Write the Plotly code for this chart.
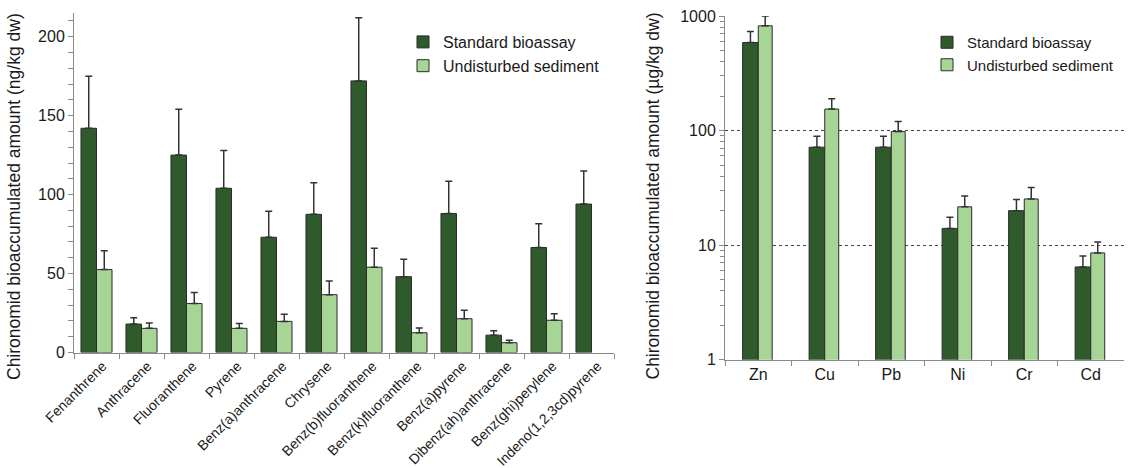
import plotly.graph_objects as go

# ---------------- data ----------------
pah = ["Fenanthrene", "Anthracene", "Fluoranthene", "Pyrene", "Benz(a)anthracene",
       "Chrysene", "Benz(b)fluoranthene", "Benz(k)fluoranthene", "Benz(a)pyrene",
       "Dibenz(ah)anthracene", "Benz(ghi)perylene", "Indeno(1,2,3cd)pyrene"]
pah_standard = [142, 18, 125, 104, 73, 87.5, 172, 48, 88, 11, 66.5, 94]
pah_standard_err = [33, 4, 29, 24, 16.5, 20, 40, 11, 20.5, 2.7, 15, 21]
pah_undisturbed = [52.5, 15.3, 31, 15.3, 19.7, 36.6, 54, 12.5, 21.4, 6.2, 20.4, None]
pah_undisturbed_err = [12, 3.4, 7, 3, 4.5, 8.7, 12, 3, 5.3, 1.5, 4.2, 0]

metals = ["Zn", "Cu", "Pb", "Ni", "Cr", "Cd"]
metal_standard = [587, 71.6, 71.6, 14.0, 20.0, 6.45]
metal_standard_err = [145, 17.8, 17.8, 3.5, 5.0, 1.6]
metal_undisturbed = [821, 154, 98, 21.6, 25.3, 8.55]
metal_undisturbed_err = [179, 36, 22, 5.3, 6.5, 2.1]

series_names = ["Standard bioassay", "Undisturbed sediment"]
left_ticks = [0, 50, 100, 150, 200]
right_tickvals = [1, 10, 100, 1000]
right_ticktext = ["1", "10", "100", "1000"]

left_title = "Chironomid bioaccumulated amount (ng/kg dw)"
right_title = "Chironomid bioaccumulated amount (\u00b5g/kg dw)"

# ---------------- style ----------------
W, H = 1134, 468
DARK = "#2f5a2b"
LIGHT = "#a6d596"
EDGE = "#2b2b2b"
AXIS = "#8a8a8a"
TXT = "#1a1a1a"
FONT = "Arial, Liberation Sans, sans-serif"


def err(vals):
    return dict(type="data", array=vals, arrayminus=[0] * len(vals), symmetric=False,
                color="#333333", thickness=1.5, width=3.5)


fig = go.Figure()

# left panel
fig.add_trace(go.Bar(x=pah, y=pah_standard, error_y=err(pah_standard_err),
                     marker=dict(color=DARK, line=dict(color=EDGE, width=1)),
                     offset=-0.345, width=0.345, name=series_names[0],
                     xaxis="x", yaxis="y", legend="legend"))
fig.add_trace(go.Bar(x=pah, y=pah_undisturbed, error_y=err(pah_undisturbed_err),
                     marker=dict(color=LIGHT, line=dict(color=EDGE, width=1)),
                     offset=0, width=0.345, name=series_names[1],
                     xaxis="x", yaxis="y", legend="legend"))

# right panel
fig.add_trace(go.Bar(x=metals, y=metal_standard, error_y=err(metal_standard_err),
                     marker=dict(color=DARK, line=dict(color=EDGE, width=1)),
                     offset=-0.235, width=0.235, name=series_names[0],
                     xaxis="x2", yaxis="y2", legend="legend2"))
fig.add_trace(go.Bar(x=metals, y=metal_undisturbed, error_y=err(metal_undisturbed_err),
                     marker=dict(color=LIGHT, line=dict(color=EDGE, width=1)),
                     offset=0, width=0.21, name=series_names[1],
                     xaxis="x2", yaxis="y2", legend="legend2"))

common_axis = dict(showline=True, linecolor=AXIS, linewidth=1, ticks="outside",
                   tickcolor=AXIS, ticklen=5, tickfont=dict(size=16, color=TXT),
                   zeroline=False, automargin=False)

fig.update_layout(
    width=W, height=H,
    margin=dict(l=0, r=0, t=0, b=0),
    paper_bgcolor="white", plot_bgcolor="white",
    font=dict(family=FONT, color=TXT),
    barmode="group",
    showlegend=True,
    xaxis=dict(domain=[74 / W, 614 / W], anchor="y", tickson="boundaries",
               tickangle=-45, showgrid=False, ticklabelshift=6, ticklabelstandoff=-1,
               **{**common_axis, "tickfont": dict(size=14, color=TXT)}),
    yaxis=dict(domain=[1 - 352.5 / H, 1 - 13 / H], anchor="x", range=[0, 215],
               tickvals=left_ticks, showgrid=False,
               minor=dict(dtick=10, ticks="outside", ticklen=5, tickcolor=AXIS, showgrid=False),
               **common_axis),
    xaxis2=dict(domain=[725 / W, 1124 / W], anchor="y2", tickson="boundaries",
                tickangle=0, showgrid=False, **common_axis),
    yaxis2=dict(domain=[1 - 359.7 / H, 1 - 16 / H], anchor="x2", type="log",
                range=[0, 3], tickvals=right_tickvals, ticktext=right_ticktext,
                showgrid=True, gridcolor="#444444", griddash="dot", gridwidth=1,
                minor=dict(dtick="D1", ticks="outside", ticklen=4, tickcolor=AXIS, showgrid=False),
                **common_axis),
    legend=dict(x=403 / W, y=1 - 25 / H, xanchor="left", yanchor="top",
                font=dict(size=16, color=TXT), bgcolor="rgba(0,0,0,0)",
                tracegroupgap=0, itemwidth=30),
    legend2=dict(x=927 / W, y=1 - 26 / H, xanchor="left", yanchor="top",
                 font=dict(size=15, color=TXT), bgcolor="rgba(0,0,0,0)",
                 tracegroupgap=0, itemwidth=30),
    annotations=[
        dict(text=left_title, textangle=-90, xref="paper", yref="paper",
             x=14 / W, y=1 - 197 / H, xanchor="center", yanchor="middle",
             showarrow=False, font=dict(size=17.5, color=TXT)),
        dict(text=right_title, textangle=-90, xref="paper", yref="paper",
             x=652 / W, y=1 - 196.5 / H, xanchor="center", yanchor="middle",
             showarrow=False, font=dict(size=17.5, color=TXT)),
    ],
)

fig.write_html("out.html", config={"displayModeBar": False},
               post_script="document.body.style.margin='0px';document.body.style.overflow='hidden';")
